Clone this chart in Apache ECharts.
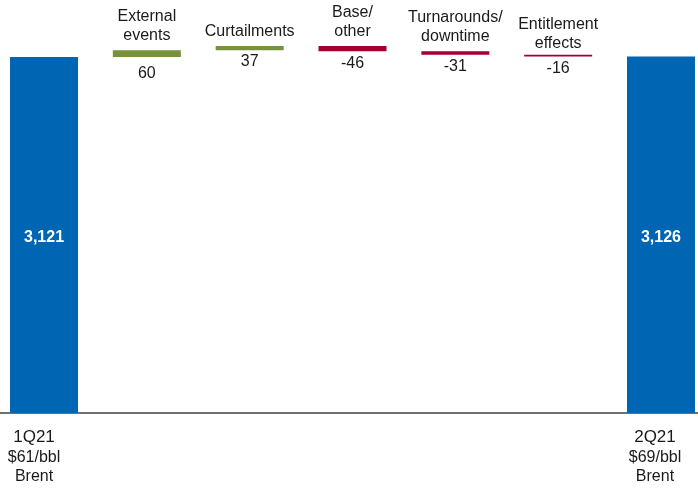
<!DOCTYPE html>
<html>
<head>
<meta charset="utf-8">
<script src="https://cdn.jsdelivr.net/npm/echarts@6/dist/echarts.min.js"></script>
<style>
  html, body { margin: 0; padding: 0; background: #fff; }
  #chart { width: 698px; height: 490px; }
</style>
</head>
<body>
<div id="chart"></div>
<script>
// Production bridge, 1Q21 -> 2Q21 (kboe/d)
const startLabel = ['1Q21', '$61/bbl', 'Brent'];
const endLabel = ['2Q21', '$69/bbl', 'Brent'];
const stepNames = ['External\nevents', 'Curtailments', 'Base/\nother', 'Turnarounds/\ndowntime', 'Entitlement\neffects'];
const startValue = 3121;
const endValue = 3126;
const deltas = [60, 37, -46, -31, -16];

const BLUE = '#0066B3';
const GREEN = '#76923C';
const RED = '#A50034';
const FONT = "'Liberation Sans', Arial, sans-serif";

// gap between each step bar and the text above / below it
const nameGap = [5, 5, 5, 5, 2];
const valueGap = [9, 3, 4, 4, 4];

const n = deltas.length + 2;
const cats = ['start'].concat(stepNames, ['end']);

// floating base under each step, and the visible step height
const baseData = ['-'];
const stepData = ['-'];
let running = startValue;
deltas.forEach((d, i) => {
  const next = running + d;
  baseData.push({
    value: Math.min(running, next),
    label: {
      show: true, position: 'insideTop', distance: valueGap[i],
      formatter: String(d), color: '#1a1a1a', fontSize: 16, fontFamily: FONT
    }
  });
  stepData.push({
    value: Math.abs(d),
    itemStyle: { color: d >= 0 ? GREEN : RED },
    label: {
      show: true, position: 'top', distance: nameGap[i],
      formatter: stepNames[i], color: '#1a1a1a', fontSize: 16,
      lineHeight: 19, fontFamily: FONT
    }
  });
  running = next;
});
baseData.push('-');
stepData.push('-');

const totalData = cats.map((c, i) => i === 0 ? startValue : (i === n - 1 ? endValue : '-'));

const fmt = v => v.toLocaleString('en-US');
const axisText = lines => '{q|' + lines[0] + '}\n{b|' + lines[1] + '}\n{b|' + lines[2] + '}';

const chart = echarts.init(document.getElementById('chart'), null, { renderer: 'canvas' });
chart.setOption({
  animation: false,
  backgroundColor: '#fff',
  grid: {
    left: -7.4, right: -14.4, top: 13.8, bottom: 77,
    containLabel: false, outerBoundsMode: 'none'
  },
  xAxis: {
    type: 'category',
    data: cats.map((c, i) => {
      if (i === 0) return { value: c, textStyle: { padding: [0, 20, 0, 0] } };
      if (i === n - 1) return { value: c, textStyle: { padding: [0, 12, 0, 0] } };
      return c;
    }),
    axisLine: { show: true, lineStyle: { color: '#404040', width: 1.5 } },
    axisTick: { show: false },
    axisLabel: {
      interval: 0, margin: 14, color: '#1a1a1a', fontFamily: FONT,
      formatter: (v, i) => i === 0 ? axisText(startLabel) : (i === n - 1 ? axisText(endLabel) : ''),
      rich: {
        q: { fontSize: 17, lineHeight: 21, color: '#1a1a1a', fontFamily: FONT },
        b: { fontSize: 16, lineHeight: 19, color: '#1a1a1a', fontFamily: FONT }
      }
    }
  },
  yAxis: {
    type: 'value', min: 0, max: 3500,
    show: false, splitLine: { show: false }
  },
  series: [
    {
      type: 'bar', stack: 'flow', data: baseData,
      itemStyle: { color: 'rgba(0,0,0,0)' },
      barWidth: 68, barGap: '-100%'
    },
    {
      type: 'bar', stack: 'flow', data: stepData,
      barWidth: 68, barGap: '-100%'
    },
    {
      type: 'bar', data: totalData,
      itemStyle: { color: BLUE },
      barWidth: 68, barGap: '-100%',
      label: {
        show: true, position: 'inside', color: '#fff', fontWeight: 'bold',
        fontSize: 16, fontFamily: FONT, offset: [0, 3],
        formatter: p => fmt(p.value)
      }
    }
  ]
});
</script>
</body>
</html>
